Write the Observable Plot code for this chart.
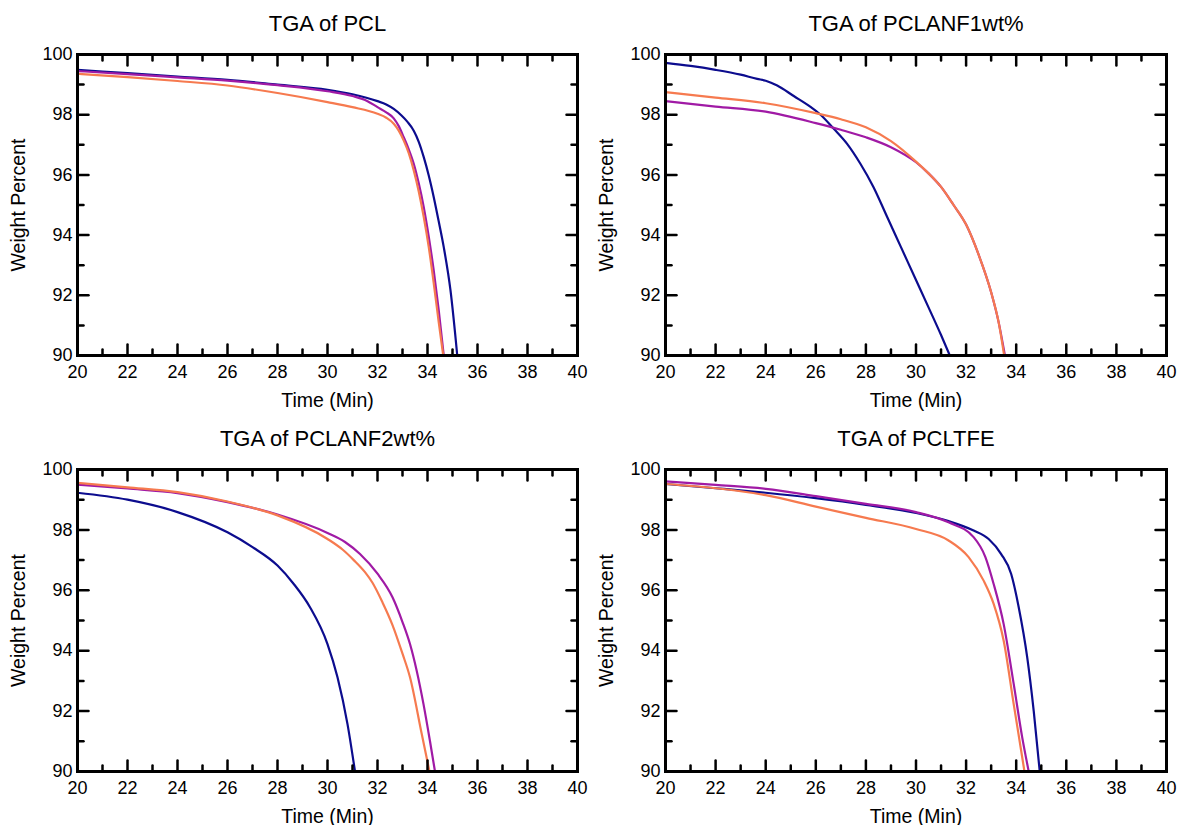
<!DOCTYPE html>
<html><head><meta charset="utf-8">
<script src="https://cdn.jsdelivr.net/npm/d3@7"></script>
<script src="https://cdn.jsdelivr.net/npm/@observablehq/plot@0.6"></script>
<style>
html,body{margin:0;padding:0;background:#fff;}
#grid{display:grid;grid-template-columns:589px 589px;grid-template-rows:412px 413px;width:1178px;height:825px;}
#grid svg{display:block}
</style></head><body><div id="grid"></div>
<script>
// ---- axes / labels ----
const xTicks = [20, 22, 24, 26, 28, 30, 32, 34, 36, 38, 40];
const xMinor = [21, 23, 25, 27, 29, 31, 33, 35, 37, 39];
const yTicks = [90, 92, 94, 96, 98, 100];
const yMinor = [91, 93, 95, 97, 99];
const titles = ["TGA of PCL", "TGA of PCLANF1wt%", "TGA of PCLANF2wt%", "TGA of PCLTFE"];
const xLabel = "Time (Min)";
const yLabel = "Weight Percent";
const seriesNames = ["Run 1", "Run 2", "Run 3"];
const seriesColors = ["#0c0c8e", "#a01aa5", "#f67a4f"];

// ---- TGA of PCL ----
const pclTime1   = [20, 22, 24, 26, 28, 30, 31, 32, 32.35, 32.65, 32.95, 33.2, 33.45, 33.65, 33.85, 34.05, 34.25, 34.45, 34.65, 34.92, 35.19];
const pclWeight1 = [99.49, 99.38, 99.27, 99.16, 99.0, 98.83, 98.68, 98.45, 98.34, 98.19, 97.98, 97.76, 97.47, 97.1, 96.59, 95.98, 95.26, 94.45, 93.6, 92.16, 90];
const pclTime2   = [20, 22, 24, 26, 28, 30, 31, 31.6, 32, 32.35, 32.65, 32.85, 33.05, 33.25, 33.45, 33.65, 33.85, 34.05, 34.25, 34.45, 34.65];
const pclWeight2 = [99.45, 99.35, 99.24, 99.13, 98.98, 98.78, 98.62, 98.45, 98.25, 98.08, 97.88, 97.62, 97.25, 96.85, 96.37, 95.72, 94.93, 93.95, 92.82, 91.5, 90];
const pclTime3   = [20, 22, 24, 26, 28, 30, 31, 32, 32.35, 32.65, 32.85, 33.05, 33.25, 33.45, 33.65, 33.85, 34.05, 34.25, 34.45, 34.63];
const pclWeight3 = [99.36, 99.25, 99.12, 98.97, 98.72, 98.42, 98.25, 98.03, 97.9, 97.7, 97.47, 97.14, 96.72, 96.15, 95.45, 94.6, 93.6, 92.4, 91.1, 90];

// ---- TGA of PCLANF1wt% ----
const anf1Time1   = [20, 21, 22, 23, 23.66, 24, 24.46, 25.12, 25.79, 26.19, 26.72, 27.25, 27.78, 28.3, 28.85, 29.4, 29.95, 30.5, 31.0, 31.35];
const anf1Weight1 = [99.72, 99.62, 99.49, 99.33, 99.19, 99.13, 98.97, 98.62, 98.26, 98.0, 97.53, 97.03, 96.37, 95.6, 94.6, 93.6, 92.6, 91.6, 90.68, 90.0];
const anf1Time2   = [20, 22, 24, 26, 27, 28, 29, 30, 30.5, 31, 31.5, 32, 32.5, 33, 33.3, 33.55];
const anf1Weight2 = [98.45, 98.27, 98.1, 97.72, 97.5, 97.25, 96.92, 96.42, 96.05, 95.6, 95.0, 94.35, 93.35, 92.1, 91.1, 90];
const anf1Time3   = [20, 22, 24, 26, 27, 28, 29, 30, 30.5, 31, 31.5, 32, 32.5, 33, 33.3, 33.52];
const anf1Weight3 = [98.75, 98.57, 98.38, 98.05, 97.85, 97.58, 97.12, 96.44, 96.05, 95.6, 95.0, 94.35, 93.35, 92.1, 91.1, 90];

// ---- TGA of PCLANF2wt% ----
const anf2Time1   = [20, 22, 24, 26, 27, 28, 28.65, 29.3, 30, 30.4, 30.8, 31.1];
const anf2Weight1 = [99.23, 99.0, 98.59, 97.92, 97.43, 96.82, 96.21, 95.44, 94.22, 93.12, 91.57, 90];
const anf2Time2   = [20, 22, 24, 26, 28, 30, 30.7, 31.3, 32, 32.6, 33.0, 33.3, 33.84, 34.1, 34.3];
const anf2Weight2 = [99.5, 99.37, 99.22, 98.92, 98.51, 97.9, 97.6, 97.2, 96.55, 95.77, 94.95, 94.22, 92.23, 91.0, 90];
const anf2Time3   = [20, 22, 24, 26, 28, 30, 30.6, 31.05, 31.5, 31.8, 32.2, 32.6, 33.0, 33.3, 33.77, 34.08];
const anf2Weight3 = [99.56, 99.41, 99.25, 98.94, 98.48, 97.7, 97.35, 97.0, 96.6, 96.25, 95.6, 94.85, 93.9, 93.12, 91.24, 90];

// ---- TGA of PCLTFE ----
const tfeTime1   = [20, 22, 24, 26, 28, 30, 31.3, 32.3, 32.9, 33.4, 33.8, 34.1, 34.44, 34.7, 34.94];
const tfeWeight1 = [99.52, 99.38, 99.23, 99.05, 98.83, 98.56, 98.29, 97.98, 97.7, 97.2, 96.54, 95.44, 93.78, 92.0, 90];
const tfeTime2   = [20, 22, 24, 26, 28, 30, 31.3, 32.3, 32.77, 33.1, 33.5, 33.9, 34.24, 34.5];
const tfeWeight2 = [99.61, 99.49, 99.36, 99.12, 98.86, 98.59, 98.25, 97.76, 97.1, 96.21, 94.88, 92.9, 91.13, 90];
const tfeTime3   = [20, 22, 23, 24, 26, 28, 30, 31.3, 32.1, 32.7, 33.1, 33.5, 33.9, 34.2, 34.33];
const tfeWeight3 = [99.52, 99.38, 99.28, 99.15, 98.77, 98.4, 98.03, 97.65, 97.1, 96.32, 95.55, 94.33, 92.23, 90.68, 90];

const panels = [
  {title: titles[0], series: [[pclTime1, pclWeight1], [pclTime2, pclWeight2], [pclTime3, pclWeight3]]},
  {title: titles[1], series: [[anf1Time1, anf1Weight1], [anf1Time2, anf1Weight2], [anf1Time3, anf1Weight3]]},
  {title: titles[2], series: [[anf2Time1, anf2Weight1], [anf2Time2, anf2Weight2], [anf2Time3, anf2Weight3]]},
  {title: titles[3], series: [[tfeTime1, tfeWeight1], [tfeTime2, tfeWeight2], [tfeTime3, tfeWeight3]]}
];

const tickShape = {draw(ctx, l) { ctx.moveTo(0, 0); ctx.lineTo(0, -l); }};
const FONT = "'Liberation Sans', Arial, Helvetica, sans-serif";

function ticks(values, axis, len) {
  const common = {length: len, anchor: "start", shape: tickShape, stroke: "black", strokeWidth: 2.5};
  if (axis === "x") return [
    Plot.vector(values, {x: d => d, frameAnchor: "bottom", rotate: 0, ...common}),
    Plot.vector(values, {x: d => d, frameAnchor: "top", rotate: 180, ...common})
  ];
  return [
    Plot.vector(values, {y: d => d, frameAnchor: "left", rotate: 90, ...common}),
    Plot.vector(values, {y: d => d, frameAnchor: "right", rotate: -90, ...common})
  ];
}

const grid = document.getElementById("grid");
panels.forEach((p, i) => {
  const col = i % 2, row = Math.floor(i / 2);
  const height = row === 0 ? 412 : 413;
  const marks = [];
  p.series.forEach(([t, w], k) => {
    const pts = t.map((tv, j) => ({time: tv, weight: w[j], name: seriesNames[k]}));
    marks.push(Plot.line(pts, {x: "time", y: "weight", stroke: seriesColors[k], strokeWidth: 2.2, curve: "monotone-x"}));
  });
  marks.push(
    Plot.frame({stroke: "black", strokeWidth: 3}),
    ...ticks(xTicks, "x", 11), ...ticks(xMinor, "x", 6),
    ...ticks(yTicks, "y", 11), ...ticks(yMinor, "y", 6),
    Plot.axisX(xTicks, {tickSize: 0, tickPadding: 10, label: null, tickFormat: d => String(d)}),
    Plot.axisY(yTicks, {tickSize: 0, tickPadding: 5, label: null, tickFormat: d => String(d)}),
    Plot.text([p.title], {text: d => d, frameAnchor: "top", dy: -31, fontSize: 22, fill: "black", textAnchor: "middle", lineAnchor: "middle"}),
    Plot.text([xLabel], {text: d => d, frameAnchor: "bottom", dy: 45.5, fontSize: 19.5, fill: "black", textAnchor: "middle", lineAnchor: "middle"}),
    Plot.text([yLabel], {text: d => d, frameAnchor: "left", dx: -59, rotate: -90, fontSize: 19.5, fill: "black", textAnchor: "middle", lineAnchor: "middle"})
  );
  const svg = Plot.plot({
    width: 589,
    height,
    marginLeft: col === 0 ? 77 : 76,
    marginRight: 12,
    marginTop: row === 0 ? 54 : 57,
    marginBottom: row === 0 ? 57 : 54,
    x: {domain: [20, 40]},
    y: {domain: [90, 100]},
    style: {fontFamily: FONT, fontSize: "18px", color: "black", background: "white", overflow: "visible"},
    marks
  });
  grid.appendChild(svg);
});
</script>
</body></html>
